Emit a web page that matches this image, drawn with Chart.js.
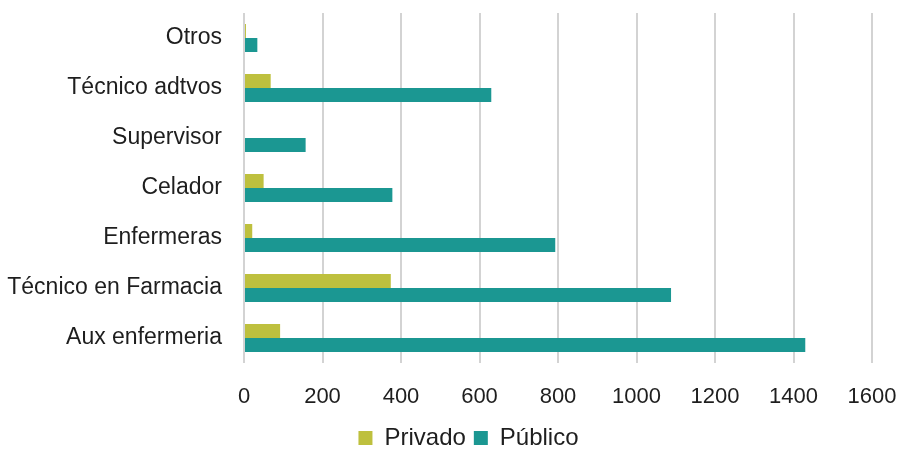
<!DOCTYPE html>
<html>
<head>
<meta charset="utf-8">
<script src="https://cdn.jsdelivr.net/npm/chart.js@4/dist/chart.umd.min.js"></script>
<style>
  html, body { margin: 0; padding: 0; background: #ffffff; }
  #wrap { width: 898px; height: 450px; position: relative; }
</style>
</head>
<body>
<div id="wrap"><canvas id="chart"></canvas></div>
<script>
// Staff categories, top to bottom
const categories = [
  'Otros',
  'Técnico adtvos',
  'Supervisor',
  'Celador',
  'Enfermeras',
  'Técnico en Farmacia',
  'Aux enfermeria'
];

// Headcount per category
const privado = [5, 68, 0, 50, 21, 374, 92];
const publico = [34, 630, 157, 378, 793, 1088, 1430];

// Axis ticks
const xTicks = [0, 200, 400, 600, 800, 1000, 1200, 1400, 1600];

const seriesNames = ['Privado', 'Público'];
const seriesColors = ['#BEC03E', '#1B9792'];

const FONT = "'Liberation Sans', Arial, Helvetica, sans-serif";
const TEXT = '#1e1e1e';

// Moves the legend row slightly right and down under the plot
const legendNudge = {
  id: 'legendNudge',
  afterLayout(chart) {
    const l = chart.legend;
    if (!l) return;
    l.left += 65;
    l.top += 10;
    l.bottom += 10;
  }
};

new Chart(document.getElementById('chart'), {
  type: 'bar',
  data: {
    labels: categories,
    datasets: [
      {
        label: seriesNames[0],
        data: privado,
        backgroundColor: seriesColors[0],
        borderWidth: 0,
        categoryPercentage: 0.56,
        barPercentage: 1.0
      },
      {
        label: seriesNames[1],
        data: publico,
        backgroundColor: seriesColors[1],
        borderWidth: 0,
        categoryPercentage: 0.56,
        barPercentage: 1.0
      }
    ]
  },
  options: {
    indexAxis: 'y',
    responsive: true,
    maintainAspectRatio: false,
    animation: false,
    layout: { padding: { top: 13, right: 26, left: 0, bottom: 0 } },
    scales: {
      x: {
        min: xTicks[0],
        max: xTicks[xTicks.length - 1],
        afterBuildTicks(scale) {
          scale.ticks = xTicks.map(v => ({ value: v }));
        },
        afterFit(scale) {
          scale.height = 45;
          scale.paddingLeft = 0;
          scale.paddingRight = 0;
        },
        grid: {
          color: '#d3d3d3',
          lineWidth: 2,
          drawTicks: false
        },
        border: { display: false },
        ticks: {
          padding: 21,
          maxRotation: 0,
          color: TEXT,
          font: { family: FONT, size: 22 },
          callback: v => String(v)
        }
      },
      y: {
        afterFit(scale) {
          scale.width = 244;
          scale.paddingTop = 0;
          scale.paddingBottom = 0;
        },
        grid: { display: false, drawTicks: false },
        border: { display: false },
        ticks: {
          padding: 22,
          color: TEXT,
          font: { family: FONT, size: 23 }
        }
      }
    },
    plugins: {
      legend: {
        position: 'bottom',
        labels: {
          boxWidth: 14,
          boxHeight: 14,
          padding: 8,
          color: TEXT,
          font: { family: FONT, size: 24 }
        }
      },
      tooltip: { enabled: false }
    }
  },
  plugins: [legendNudge]
});
</script>
</body>
</html>
